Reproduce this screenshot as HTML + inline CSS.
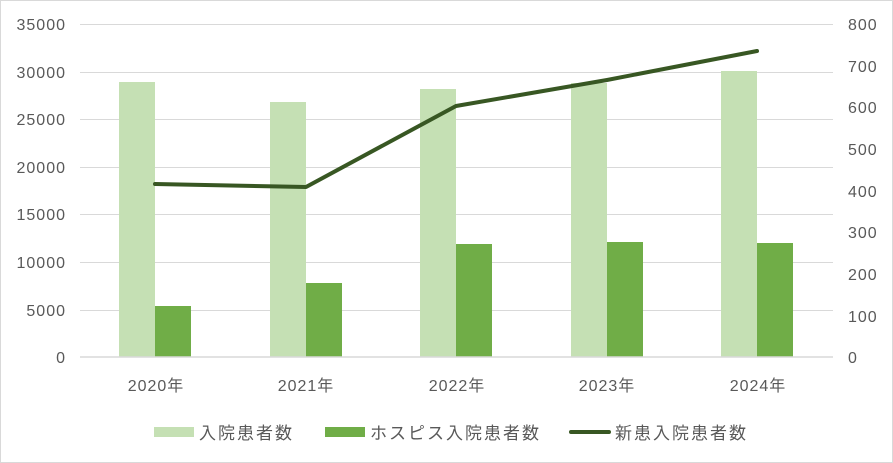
<!DOCTYPE html>
<html><head><meta charset="utf-8"><style>
body{margin:0;background:#fff}
svg{display:block;font-family:"Liberation Sans","Noto Sans CJK JP",sans-serif}
</style></head><body>
<svg width="893" height="463" viewBox="0 0 893 463">
<rect x="0.5" y="0.5" width="892" height="462" fill="#fff" stroke="#d9d9d9"/>
<g stroke="#d9d9d9" stroke-width="1">
<line x1="80" x2="833" y1="24.5" y2="24.5"/>
<line x1="80" x2="833" y1="72.5" y2="72.5"/>
<line x1="80" x2="833" y1="119.5" y2="119.5"/>
<line x1="80" x2="833" y1="167.5" y2="167.5"/>
<line x1="80" x2="833" y1="214.5" y2="214.5"/>
<line x1="80" x2="833" y1="262.5" y2="262.5"/>
<line x1="80" x2="833" y1="310.5" y2="310.5"/>
</g>
<g fill="#c5e0b4">
<rect x="119" y="82" width="36" height="275"/>
<rect x="270" y="102" width="36" height="255"/>
<rect x="420" y="89" width="36" height="268"/>
<rect x="571" y="83" width="36" height="274"/>
<rect x="721" y="71" width="36" height="286"/>
</g>
<g fill="#70ad47">
<rect x="155" y="306" width="36" height="51"/>
<rect x="306" y="283" width="36" height="74"/>
<rect x="456" y="244" width="36" height="113"/>
<rect x="607" y="242" width="36" height="115"/>
<rect x="757" y="243" width="36" height="114"/>
</g>
<line x1="80" x2="833" y1="357" y2="357" stroke="#d9d9d9" stroke-width="1.5"/>
<polyline points="155,184 306,187 456,106 607,80 757,51" fill="none" stroke="#385723" stroke-width="4" stroke-linejoin="round" stroke-linecap="round"/>
<g fill="#595959" font-size="16" letter-spacing="1" text-anchor="end">
<text x="66" y="30">35000</text><text x="66" y="78">30000</text><text x="66" y="125">25000</text>
<text x="66" y="173">20000</text><text x="66" y="220">15000</text><text x="66" y="268">10000</text>
<text x="66" y="316">5000</text><text x="66" y="363">0</text>
</g>
<g fill="#595959" font-size="16" letter-spacing="1" text-anchor="start">
<text x="848" y="30">800</text><text x="848" y="72">700</text><text x="848" y="113">600</text>
<text x="848" y="155">500</text><text x="848" y="197">400</text><text x="848" y="238">300</text>
<text x="848" y="280">200</text><text x="848" y="322">100</text><text x="848" y="363">0</text>
</g>
<g fill="#595959" font-size="16" letter-spacing="1" text-anchor="middle">
<text x="156" y="391">2020年</text><text x="306" y="391">2021年</text><text x="457" y="391">2022年</text>
<text x="607" y="391">2023年</text><text x="758" y="391">2024年</text>
</g>
<g font-size="17" letter-spacing="2" fill="#595959">
<rect x="154" y="427" width="40" height="10" fill="#c5e0b4"/>
<text x="199" y="439">入院患者数</text>
<rect x="325" y="427" width="40" height="10" fill="#70ad47"/>
<text x="370" y="439">ホスピス入院患者数</text>
<line x1="571" x2="609" y1="432" y2="432" stroke="#385723" stroke-width="4" stroke-linecap="round"/>
<text x="615" y="439">新患入院患者数</text>
</g>
</svg>
</body></html>
